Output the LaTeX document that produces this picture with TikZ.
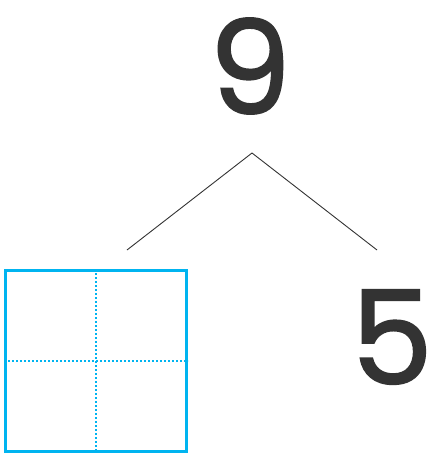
\documentclass[tikz,border=0pt]{standalone}
\usepackage{fontspec}
\newfontfamily\digitfont{Poppins}[FakeBold=1.5]
\definecolor{ink}{HTML}{333333}
\definecolor{boxblue}{HTML}{00B4F0}
\begin{document}
\begin{tikzpicture}[x=1pt,y=-1pt,
  digit/.style={text=ink,font=\digitfont\fontsize{130}{130}\selectfont,inner sep=0pt,anchor=center},
  branch/.style={draw=ink,line width=0.9pt},
  grid/.style={draw=boxblue,line width=2pt,dotted}]
\useasboundingbox (0,0) rectangle (434,453);
\node[digit] (nine) at (250,66) {9};
\node[digit] (five) at (392,337) {5};
\coordinate (apex) at (252,153);
\coordinate (lend) at (127,250);
\coordinate (rend) at (377,250);
\draw[branch] (lend) -- (apex) -- (rend);
\node[draw=boxblue,line width=3pt,minimum width=181pt,minimum height=181pt,inner sep=0pt] (box) at (96,361) {};
\draw[grid] (box.north) -- (box.south);
\draw[grid] (box.west) -- (box.east);
\end{tikzpicture}
\end{document}
